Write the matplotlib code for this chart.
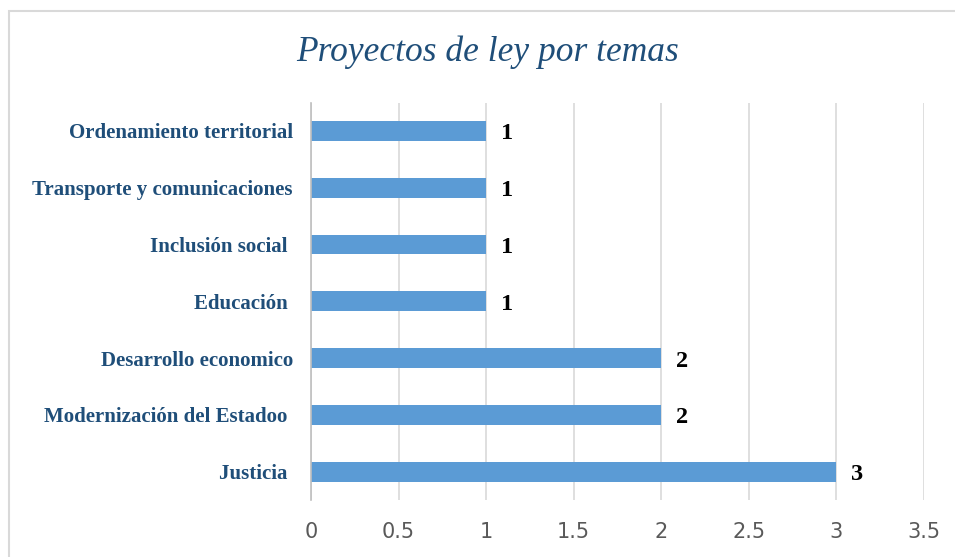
import matplotlib
matplotlib.use("Agg")
import matplotlib.pyplot as plt
from matplotlib.patches import Rectangle
from matplotlib.transforms import offset_copy

categories = ["Justicia ", "Modernización del Estadoo ", "Desarrollo economico",
              "Educación ", "Inclusión social ", "Transporte y comunicaciones",
              "Ordenamiento territorial"]
values = [3, 2, 2, 1, 1, 1, 1]
xticks = [0, 0.5, 1, 1.5, 2, 2.5, 3, 3.5]
xtick_labels = ["0", "0.5", "1", "1.5", "2", "2.5", "3", "3.5"]
title = "Proyectos de ley por temas"

fig = plt.figure(figsize=(9.55, 5.57), dpi=100)
ax = fig.add_axes([311/955, 57/557, (924-311)/955, (500-102.6)/557])

y = list(range(len(categories)))
ax.barh(y, values, height=0.35, color="#5B9BD5", zorder=3)
ax.set_xlim(0, 3.5)
ax.set_ylim(-0.5, len(categories) - 0.5)
ax.set_xticks(xticks)
ax.set_xticklabels(xtick_labels, fontsize=15, color="#595959", family="DejaVu Sans")
ax.set_yticks(y)
ax.set_yticklabels(categories, fontsize=15, fontweight="bold", color="#1F4E79",
                   family="Liberation Serif")
ax.tick_params(axis="x", length=0, pad=16)
ax.tick_params(axis="y", length=0, pad=13)
ax.grid(axis="x", color="#D9D9D9", linewidth=1.2, zorder=0)
for s in ["top", "right", "bottom"]:
    ax.spines[s].set_visible(False)
ax.spines["left"].set_color("#BFBFBF")
ax.spines["left"].set_linewidth(1.2)
ax.spines["left"].set_zorder(4)

label_tr = offset_copy(ax.transData, fig=fig, x=15, y=-3, units="dots")
for yi, v in zip(y, values):
    ax.text(v, yi, str(v), va="center", ha="left", fontsize=17.5,
            fontweight="bold", color="black", family="Liberation Serif",
            transform=label_tr)

fig.text(0.511, 0.907, title, ha="center", va="center", fontsize=25.5,
         style="italic", color="#1F4E79", family="Liberation Serif")

fig.patches.append(Rectangle((8.5/955, -0.05), 1.0, (557 - 10.5)/557 + 0.05,
                             transform=fig.transFigure,
                             fill=False, edgecolor="#D9D9D9", linewidth=1.5))

fig.savefig("out.png", dpi=100)
